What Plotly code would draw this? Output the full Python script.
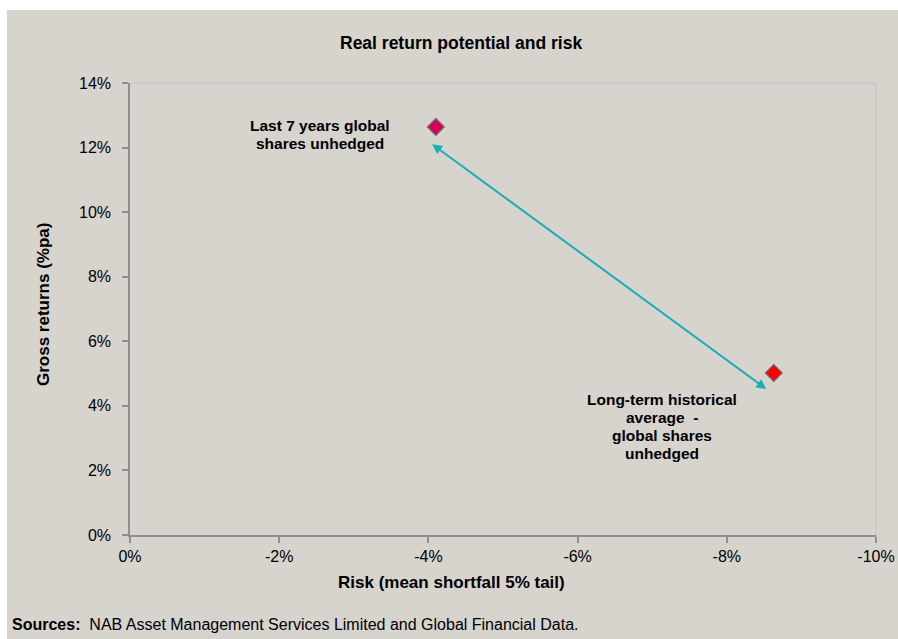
import plotly.graph_objects as go

# Data
names = ["Last 7 years global shares unhedged", "Long-term historical average - global shares unhedged"]
risk = [-0.0410, -0.0863]
returns = [0.1264, 0.0502]
colors = ["#D6005C", "#FF0000"]
labels = [["Last 7 years global", "shares unhedged"],
          ["Long-term historical", "average  -", "global shares", "unhedged"]]
label_pos = [(-0.0255, 0.1241), (-0.0713, 0.0335)]
arrow_start = (-0.0403, 0.1214)
arrow_end = (-0.0853, 0.0452)
xticks = [0, -0.02, -0.04, -0.06, -0.08, -0.10]
xticklabels = ["0%", "-2%", "-4%", "-6%", "-8%", "-10%"]
yticks = [0, 0.02, 0.04, 0.06, 0.08, 0.10, 0.12, 0.14]
yticklabels = ["0%", "2%", "4%", "6%", "8%", "10%", "12%", "14%"]

BG = "#D7D3CD"
AX = "#8E8E8E"
FONT = "Liberation Sans, Arial, sans-serif"

fig = go.Figure()
fig.add_trace(go.Scatter(
    x=risk, y=returns, mode="markers",
    marker=dict(symbol="diamond", size=13, color=colors,
                line=dict(color="#6E6E6E", width=1.2)),
    hoverinfo="skip", showlegend=False, cliponaxis=False))

L, R, T, B = 130, 22, 83, 104
W, H = 898, 639
pw, ph = W - L - R, H - T - B

def px(xp):
    return (xp - L) / pw

def py(yp):
    return (H - B - yp) / ph

shapes = [
    dict(type="rect", xref="paper", yref="paper", x0=px(-5), x1=px(W + 5),
         y0=py(10), y1=py(-5), fillcolor="#FFFFFF", line=dict(width=0), layer="below"),
    dict(type="rect", xref="paper", yref="paper", x0=px(-5), x1=px(7),
         y0=py(H + 5), y1=py(-5), fillcolor="#FFFFFF", line=dict(width=0), layer="below"),
    dict(type="line", xref="paper", yref="paper", x0=0, x1=1, y0=1, y1=1,
         line=dict(color="#C4C1BC", width=1), layer="below"),
    dict(type="line", xref="paper", yref="paper", x0=1, x1=1, y0=0, y1=1,
         line=dict(color="#C4C1BC", width=1), layer="below"),
]

annotations = []
LINE_H = 18
for (lx, ly), lines in zip(label_pos, labels):
    n = len(lines)
    for i, t in enumerate(lines):
        annotations.append(dict(x=lx, y=ly, xref="x", yref="y", text="<b>" + t + "</b>",
                                showarrow=False, align="center", xanchor="center", yanchor="middle",
                                yshift=-(i - (n - 1) / 2) * LINE_H,
                                font=dict(family=FONT, size=15.5, color="#000000")))
annotations.append(dict(x=arrow_end[0], y=arrow_end[1], ax=arrow_start[0], ay=arrow_start[1],
                        xref="x", yref="y", axref="x", ayref="y", text="",
                        showarrow=True, arrowhead=2, startarrowhead=2, arrowside="end+start",
                        arrowsize=1, startarrowsize=1, arrowwidth=2, arrowcolor="#1AADBA",
                        standoff=0, startstandoff=0))
annotations.append(dict(x=px(10), y=py(624), xref="paper", yref="paper",
                        xanchor="left", yanchor="middle", showarrow=False,
                        text="<b>Sources:</b>  NAB Asset Management Services Limited and Global Financial Data.",
                        font=dict(family=FONT, size=16, color="#000000")))
annotations.append(dict(x=px(461), y=py(43), xref="paper", yref="paper",
                        xanchor="center", yanchor="middle", showarrow=False,
                        text="<b>Real return potential and risk</b>",
                        font=dict(family=FONT, size=17.5, color="#000000")))
annotations.append(dict(x=px(451), y=py(582), xref="paper", yref="paper",
                        xanchor="center", yanchor="middle", showarrow=False,
                        text="<b>Risk (mean shortfall 5% tail)</b>",
                        font=dict(family=FONT, size=17, color="#000000")))
annotations.append(dict(x=px(43), y=py(305), xref="paper", yref="paper",
                        xanchor="center", yanchor="middle", showarrow=False, textangle=-90,
                        text="<b>Gross returns (%pa)</b>",
                        font=dict(family=FONT, size=17, color="#000000")))

fig.update_layout(
    width=W, height=H,
    margin=dict(l=L, r=R, t=T, b=B, autoexpand=False),
    paper_bgcolor=BG, plot_bgcolor=BG,
    font=dict(family=FONT, size=16, color="#000000"),
    shapes=shapes, annotations=annotations,
    xaxis=dict(range=[0, -0.10], tickvals=xticks, ticktext=xticklabels, automargin=False,
               showgrid=False, zeroline=False, showline=True, linecolor=AX, linewidth=1.5,
               ticks="outside", ticklen=6, tickcolor=AX, tickwidth=1.5,
               tickfont=dict(family=FONT, size=16)),
    yaxis=dict(range=[0, 0.14], tickvals=yticks, ticktext=yticklabels, automargin=False,
               showgrid=False, zeroline=False, showline=True, linecolor=AX, linewidth=1.5,
               ticks="outside", ticklen=6, tickcolor=AX, tickwidth=1.5, ticklabelstandoff=8,
               tickfont=dict(family=FONT, size=16)),
)

fig.write_html("out.html")
